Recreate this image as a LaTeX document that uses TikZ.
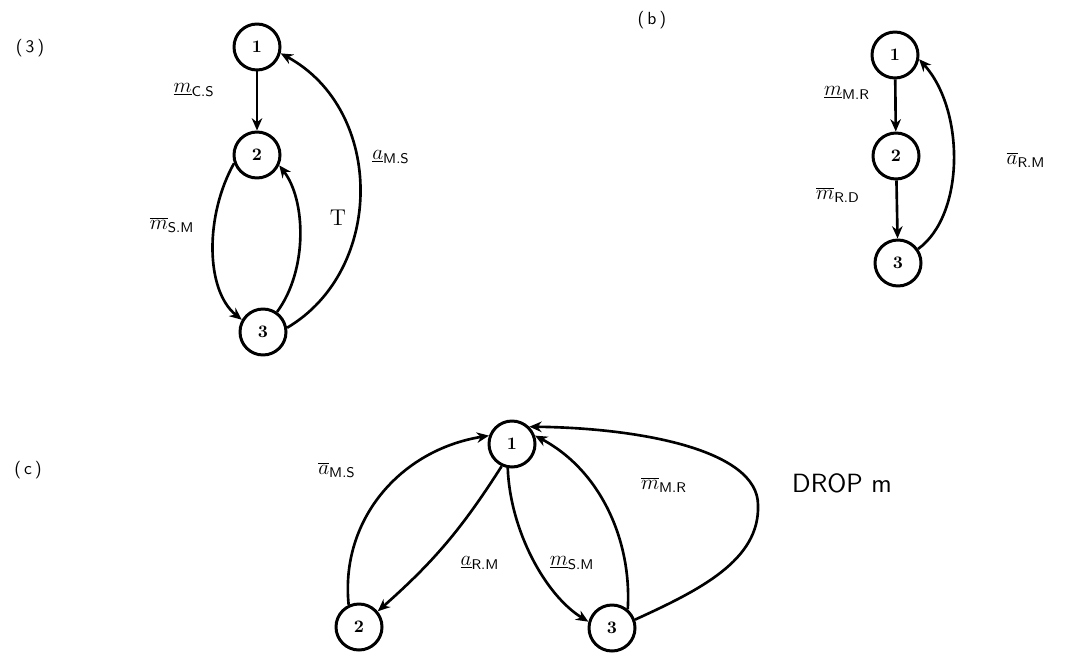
\documentclass[tikz,border=0pt]{standalone}
\usetikzlibrary{arrows.meta}
\begin{document}
\begin{tikzpicture}[x=0.02cm,y=0.02cm,
  state/.style={circle,draw,line width=1.7pt,minimum size=0.92cm,inner sep=0pt,font=\fontsize{10}{12}\selectfont\bfseries},
  arr/.style={line width=1.5pt,-{Stealth[length=7pt,width=6pt]}},
  lab/.style={font=\fontsize{12}{14}\selectfont,inner sep=0pt},
  tag/.style={font=\fontsize{10}{12}\selectfont\sffamily,inner sep=0pt}]
\path[use as bounding box] (0,0) rectangle (1067,-655);

% ---------- (a) ----------
\node[tag] (ta) at (30,-48) {(\,3\,)};
\node[state] (a1) at (257,-47) {1};
\node[state] (a2) at (257,-155) {2};
\node[state] (a3) at (263,-332) {3};
\draw[arr] (a1) -- (a2);
\draw[arr] (a2.200) .. controls (205,-215) and (205,-290) .. (a3.150);
\draw[arr] (a3.55) .. controls (308,-270) and (306,-200) .. (a2.-25);
\draw[arr] (a3.10) .. controls (385,-270) and (385,-110) .. (a1.-15);
\node[lab] (la1) at (194,-90) {$\underline{m}_{\mathsf{C.S}}$};
\node[lab] (la2) at (172,-225) {$\overline{m}_{\mathsf{S.M}}$};
\node[lab,font=\fontsize{13}{15}\selectfont] (la3) at (338,-218) {T};
\node[lab] (la4) at (391,-157) {$\underline{a}_{\mathsf{M.S}}$};

% ---------- (b) ----------
\node[tag] (tb) at (652,-20) {(\,b\,)};
\node[state] (b1) at (895,-55) {1};
\node[state] (b2) at (896,-156) {2};
\node[state] (b3) at (898,-263) {3};
\draw[arr] (b1) -- (b2);
\draw[arr] (b2) -- (b3);
\draw[arr] (b3.35) .. controls (965,-215) and (965,-110) .. (b1.-10);
\node[lab] (lb1) at (847,-93) {$\underline{m}_{\mathsf{M.R}}$};
\node[lab] (lb2) at (838,-195) {$\overline{m}_{\mathsf{R.D}}$};
\node[lab] (lb3) at (1026,-160) {$\overline{a}_{\mathsf{R.M}}$};

% ---------- (c) ----------
\node[tag] (tc) at (28,-470) {(\,c\,)};
\node[state] (c1) at (512,-444) {1};
\node[state] (c2) at (359,-627) {2};
\node[state] (c3) at (612,-628) {3};
\draw[arr] (c2.115) .. controls (340,-520) and (400,-450) .. (c1.160);
\draw[arr] (c1.245) to[bend left=8] (c2.40);
\draw[arr] (c1.260) .. controls (510,-530) and (545,-595) .. (c3.165);
\draw[arr] (c3.50) .. controls (632,-540) and (600,-470) .. (c1.20);
\draw[arr] (c3.20) .. controls (700,-590) and (760,-560) .. (758,-505)
           .. controls (758,-450) and (640,-428) .. (c1.45);
\node[lab] (lc1) at (337,-470) {$\overline{a}_{\mathsf{M.S}}$};
\node[lab] (lc2) at (480,-563) {$\underline{a}_{\mathsf{R.M}}$};
\node[lab] (lc3) at (572,-563) {$\underline{m}_{\mathsf{S.M}}$};
\node[lab] (lc4) at (664,-485) {$\overline{m}_{\mathsf{M.R}}$};
\node[lab,font=\fontsize{15}{17}\selectfont\sffamily] (lc5) at (842,-483) {DROP m};
\end{tikzpicture}
\end{document}
